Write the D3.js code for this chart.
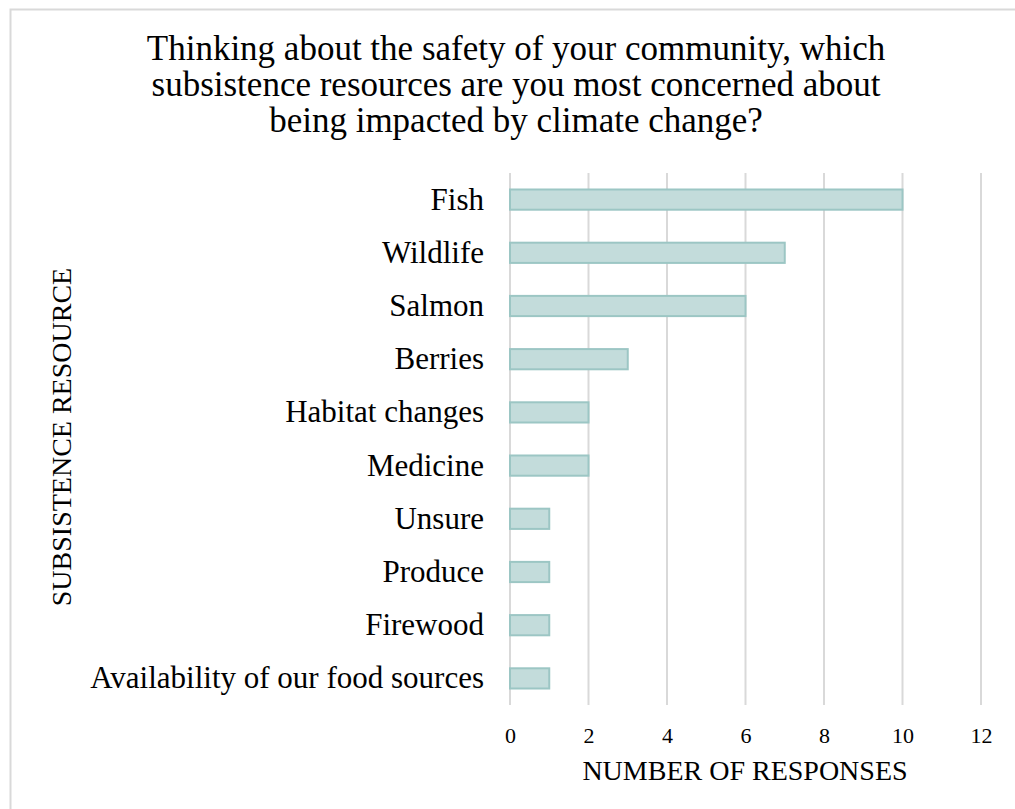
<!DOCTYPE html>
<html>
<head>
<meta charset="utf-8">
<script src="https://cdn.jsdelivr.net/npm/d3@7"></script>
<style>
  body { margin: 0; background: #fff; }
  text { font-family: "Liberation Serif", "Times New Roman", serif; fill: #000; }
</style>
</head>
<body>
<div id="chart"></div>
<script>
// data
var categories = ["Fish", "Wildlife", "Salmon", "Berries", "Habitat changes",
                  "Medicine", "Unsure", "Produce", "Firewood", "Availability of our food sources"];
var responses = [10, 7, 6, 3, 2, 2, 1, 1, 1, 1];
var xTicks = [0, 2, 4, 6, 8, 10, 12];
var titleLines = ["Thinking about the safety of your community, which",
                  "subsistence resources are you most concerned about",
                  "being impacted by climate change?"];

var W = 1015, H = 809;
var margin = {top: 173, right: 34, bottom: 104, left: 510};

var svg = d3.select("#chart").append("svg")
    .attr("width", W)
    .attr("height", H);

// frame
svg.append("rect")
    .attr("x", 10.5).attr("y", 9.5)
    .attr("width", W + 10).attr("height", H + 10)
    .attr("fill", "none")
    .attr("stroke", "#d9d9d9")
    .attr("stroke-width", 2);

// title
svg.append("g").selectAll("text")
    .data(titleLines)
  .enter().append("text")
    .attr("x", 516)
    .attr("y", function(d, i) { return 60 + i * 36; })
    .attr("text-anchor", "middle")
    .style("font-size", "35px")
    .text(function(d) { return d; });

var x = d3.scaleLinear()
    .domain([0, 12])
    .range([0, 471]);

var y = d3.scaleBand()
    .domain(categories)
    .range([0, 532])
    .paddingInner(0.62)
    .paddingOuter(0.31);

var main = svg.append("g")
    .attr("transform", "translate(" + margin.left + "," + margin.top + ")");

// gridlines
main.append("g").selectAll("line")
    .data(xTicks)
  .enter().append("line")
    .attr("x1", function(d) { return x(d); })
    .attr("x2", function(d) { return x(d); })
    .attr("y1", 0)
    .attr("y2", 532)
    .attr("stroke", "#d9d9d9")
    .attr("stroke-width", 2);

// bars
main.append("g").selectAll("rect")
    .data(responses)
  .enter().append("rect")
    .attr("x", x(0))
    .attr("y", function(d, i) { return y(categories[i]); })
    .attr("width", function(d) { return x(d) - x(0); })
    .attr("height", y.bandwidth())
    .attr("fill", "#c3dcdb")
    .attr("stroke", "#9cc6c4")
    .attr("stroke-width", 2);

// category labels
var yAxis = d3.axisLeft(y).tickSize(0).tickPadding(26);
main.append("g")
    .call(yAxis)
    .call(function(g) { g.select(".domain").remove(); })
    .selectAll("text")
    .style("font-size", "31px")
    .style("font-family", "Liberation Serif, serif");

// x tick labels
var xAxis = d3.axisBottom(x).tickValues(xTicks).tickSize(0).tickPadding(22);
main.append("g")
    .attr("transform", "translate(0,532)")
    .call(xAxis)
    .call(function(g) { g.select(".domain").remove(); })
    .selectAll("text")
    .style("font-size", "22px")
    .style("font-family", "Liberation Serif, serif");

// axis titles
svg.append("text")
    .attr("x", 745)
    .attr("y", 780)
    .attr("text-anchor", "middle")
    .style("font-size", "28px")
    .text("NUMBER OF RESPONSES");

svg.append("text")
    .attr("transform", "translate(71,437) rotate(-90)")
    .attr("text-anchor", "middle")
    .style("font-size", "28px")
    .text("SUBSISTENCE RESOURCE");
</script>
</body>
</html>
